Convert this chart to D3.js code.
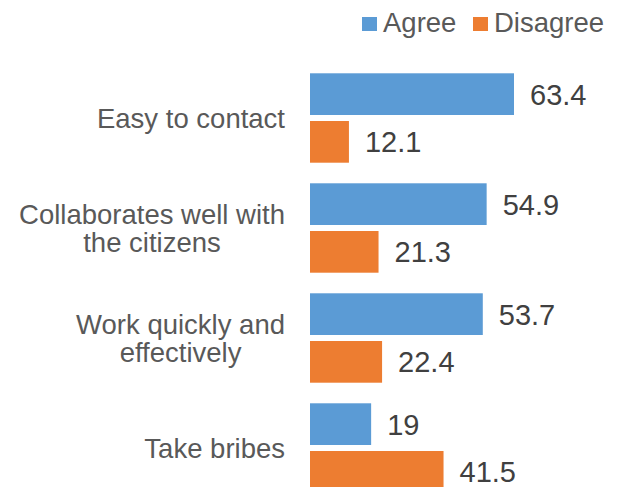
<!DOCTYPE html>
<html>
<head>
<meta charset="utf-8">
<script src="https://cdn.jsdelivr.net/npm/d3@7"></script>
<style>
  html, body { margin: 0; padding: 0; background: #fff; }
  svg { display: block; font-family: "Liberation Sans", Arial, sans-serif; }
</style>
</head>
<body>
<script>
const categories = ["Easy to contact", "Collaborates well with the citizens", "Work quickly and effectively", "Take bribes"];
const seriesNames = ["Agree", "Disagree"];
const agreeValues = [63.4, 54.9, 53.7, 19];
const disagreeValues = [12.1, 21.3, 22.4, 41.5];
const seriesColors = ["#5B9BD5", "#ED7D31"];

const W = 623, H = 487;
const svg = d3.select("body").append("svg").attr("width", W).attr("height", H);

const x = d3.scaleLinear().domain([0, 70]).range([310, 310 + 70 * (204 / 63.4)]);
const y0 = d3.scaleBand().domain(categories).range([63, 503]);
const y1 = d3.scaleBand().domain(seriesNames).range([0, y0.bandwidth()]).paddingInner(0.1258).paddingOuter(0.216);

const rows = categories.map((c, i) => ({ cat: c, vals: [
  { s: seriesNames[0], v: agreeValues[i], color: seriesColors[0] },
  { s: seriesNames[1], v: disagreeValues[i], color: seriesColors[1] }
]}));

const g = svg.selectAll("g.cat").data(rows).join("g").attr("class", "cat")
  .attr("transform", d => `translate(0,${y0(d.cat)})`);

g.selectAll("rect").data(d => d.vals).join("rect")
  .attr("x", x(0))
  .attr("y", d => y1(d.s))
  .attr("width", d => x(d.v) - x(0))
  .attr("height", y1.bandwidth())
  .attr("fill", d => d.color);

g.selectAll("text.val").data(d => d.vals).join("text").attr("class", "val")
  .attr("x", d => x(d.v) + 16)
  .attr("y", d => y1(d.s) + y1.bandwidth() / 2)
  .attr("dy", "0.36em")
  .attr("font-size", 29)
  .attr("fill", "#404040")
  .text(d => d.v);

// Category labels (wrapped, centered, right-aligned block)
const labelRight = 285, maxW = 290, lineH = 28, labelSize = 27.5;
rows.forEach(r => {
  const words = r.cat.split(" ");
  const tmp = svg.append("text").attr("font-size", labelSize);
  const lines = [];
  let cur = [];
  words.forEach(w => {
    const test = cur.concat([w]).join(" ");
    tmp.text(test);
    if (tmp.node().getComputedTextLength() > maxW && cur.length) {
      lines.push(cur.join(" "));
      cur = [w];
    } else cur.push(w);
  });
  if (cur.length) lines.push(cur.join(" "));
  let mw = 0;
  lines.forEach(l => { tmp.text(l); mw = Math.max(mw, tmp.node().getComputedTextLength()); });
  tmp.remove();
  const cy = y0(r.cat) + y0.bandwidth() / 2;
  const t = svg.append("text").attr("font-size", labelSize).attr("fill", "#595959")
    .attr("text-anchor", "middle");
  lines.forEach((l, i) => {
    t.append("tspan").attr("x", labelRight - mw / 2)
      .attr("y", cy + (i - (lines.length - 1) / 2) * lineH)
      .attr("dy", "0.36em").text(l);
  });
});

// Legend
const legendPos = [362, 473];
const lg = svg.selectAll("g.leg").data(seriesNames).join("g").attr("class", "leg")
  .attr("transform", (d, i) => `translate(${legendPos[i]},0)`);
lg.append("rect").attr("x", 0).attr("y", 17).attr("width", 15).attr("height", 14)
  .attr("fill", (d, i) => seriesColors[i]);
lg.append("text").attr("x", 21).attr("y", 32.3).attr("font-size", 27.5).attr("fill", "#595959")
  .text(d => d);
</script>
</body>
</html>
